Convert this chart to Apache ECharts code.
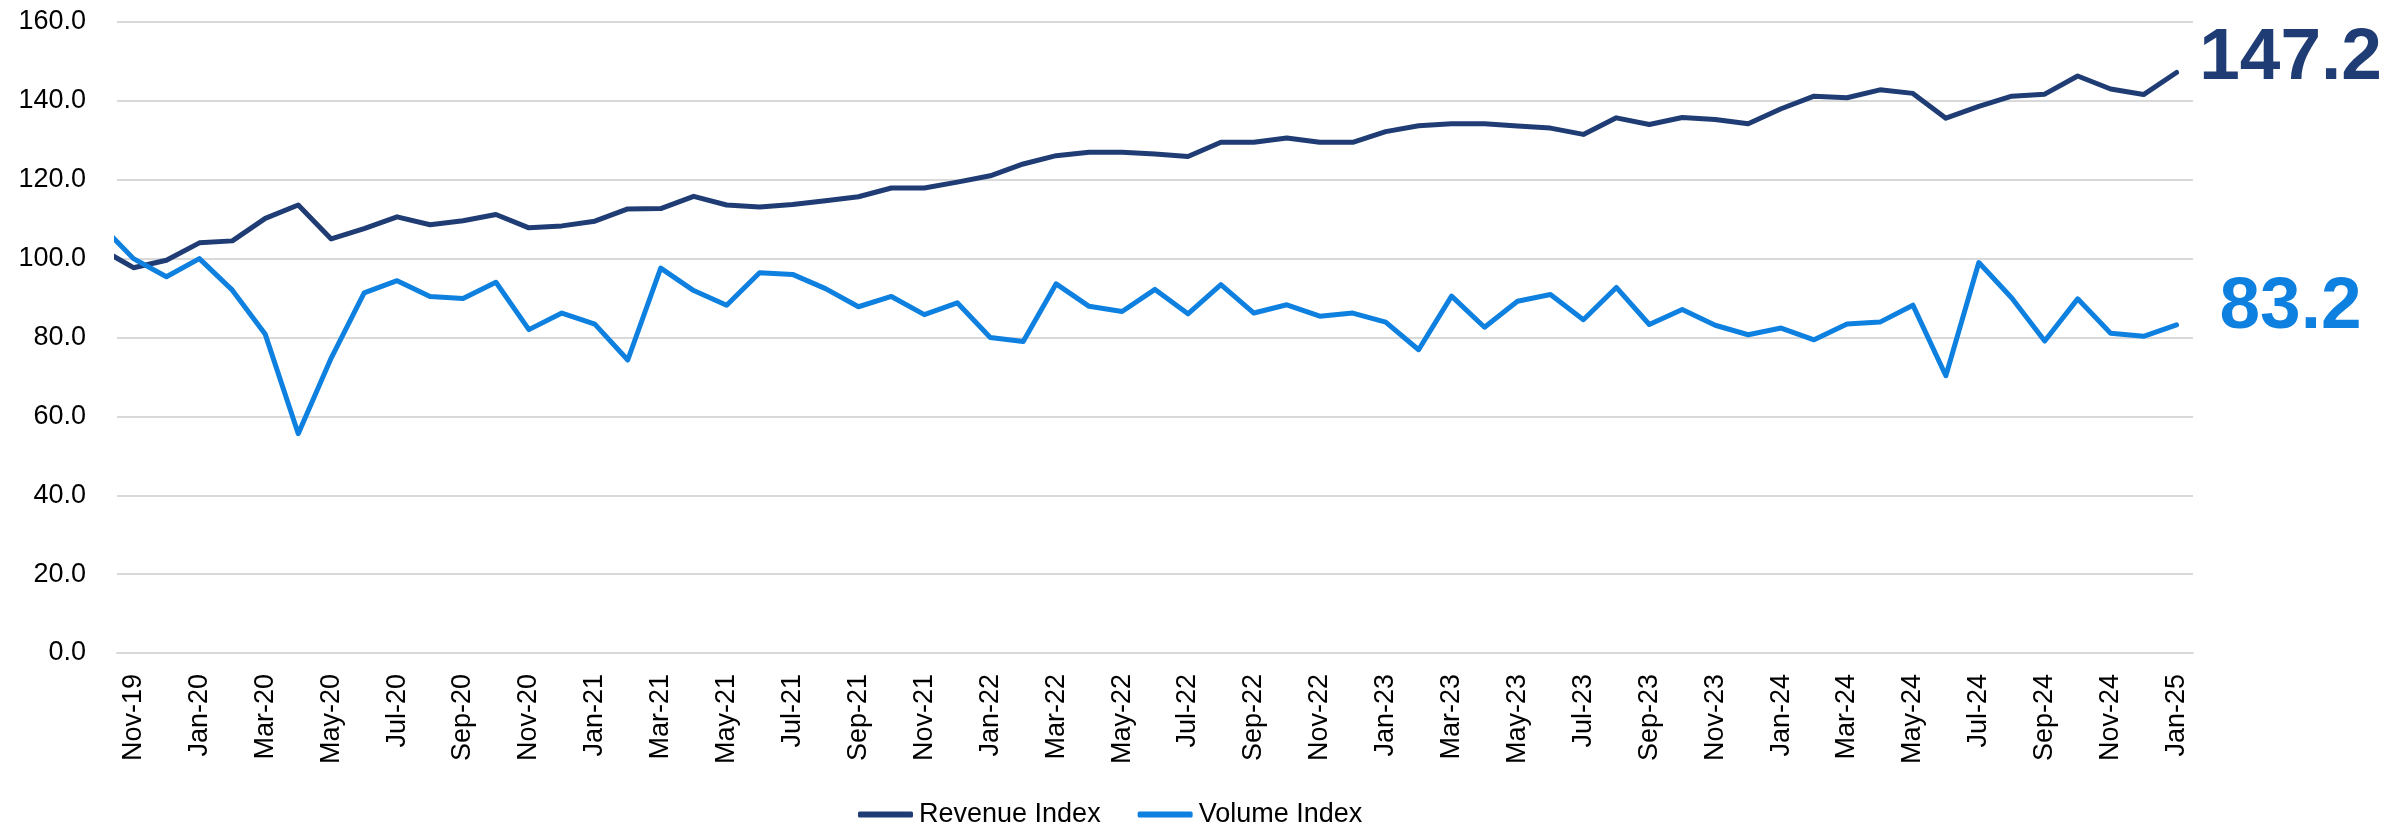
<!DOCTYPE html>
<html>
<head>
<meta charset="utf-8">
<script src="https://cdn.jsdelivr.net/npm/echarts@6/dist/echarts.min.js"></script>
<style>
    html, body { margin: 0; padding: 0; background: #fff; }
    #chart { width: 2404px; height: 826px; }
</style>
</head>
<body>
<div id="chart"></div>
<script>
// Oct-19 sits just left of the plot area, only its segment into Nov-19 shows
const months = [
    'Oct-19', 'Nov-19', 'Dec-19',
    'Jan-20', 'Feb-20', 'Mar-20', 'Apr-20', 'May-20', 'Jun-20', 'Jul-20', 'Aug-20', 'Sep-20', 'Oct-20', 'Nov-20', 'Dec-20',
    'Jan-21', 'Feb-21', 'Mar-21', 'Apr-21', 'May-21', 'Jun-21', 'Jul-21', 'Aug-21', 'Sep-21', 'Oct-21', 'Nov-21', 'Dec-21',
    'Jan-22', 'Feb-22', 'Mar-22', 'Apr-22', 'May-22', 'Jun-22', 'Jul-22', 'Aug-22', 'Sep-22', 'Oct-22', 'Nov-22', 'Dec-22',
    'Jan-23', 'Feb-23', 'Mar-23', 'Apr-23', 'May-23', 'Jun-23', 'Jul-23', 'Aug-23', 'Sep-23', 'Oct-23', 'Nov-23', 'Dec-23',
    'Jan-24', 'Feb-24', 'Mar-24', 'Apr-24', 'May-24', 'Jun-24', 'Jul-24', 'Aug-24', 'Sep-24', 'Oct-24', 'Nov-24', 'Dec-24',
    'Jan-25'
];

const revenueIndex = [
    102.5, 97.7, 99.6,
    104.0, 104.5, 110.2, 113.6, 105.0, 107.6, 110.6, 108.6, 109.6, 111.2, 107.8, 108.3,
    109.5, 112.6, 112.7, 115.8, 113.6, 113.1, 113.7, 114.7, 115.7, 117.9, 117.9, 119.4,
    121.0, 124.0, 126.1, 127.0, 127.0, 126.5, 125.9, 129.5, 129.5, 130.6, 129.5, 129.5,
    132.2, 133.7, 134.2, 134.2, 133.6, 133.1, 131.5, 135.7, 134.0, 135.8, 135.3, 134.2,
    138.0, 141.2, 140.8, 142.8, 141.9, 135.6, 138.6, 141.2, 141.7, 146.3, 143.0, 141.6,
    147.2
];

const volumeIndex = [
    108.6, 100.0, 95.4,
    100.0, 92.0, 80.8, 55.6, 74.8, 91.3, 94.4, 90.4, 89.9, 94.0, 82.0, 86.2,
    83.4, 74.3, 97.6, 91.9, 88.2, 96.4, 96.0, 92.4, 87.8, 90.4, 85.8, 88.8,
    80.0, 79.0, 93.6, 87.9, 86.6, 92.2, 86.0, 93.4, 86.2, 88.3, 85.4, 86.2,
    83.9, 76.9, 90.5, 82.6, 89.2, 90.9, 84.5, 92.7, 83.3, 87.1, 83.1, 80.7,
    82.4, 79.4, 83.4, 83.9, 88.2, 70.3, 99.0, 90.0, 79.1, 89.8, 81.1, 80.3,
    83.2
];

const navy = '#1F3D74';
const blue = '#0E80DF';
const fontFamily = '"Liberation Sans", Arial, sans-serif';

const chart = echarts.init(document.getElementById('chart'));

function lineSeries(name, data, color, dy) {
    return {
        name: name,
        type: 'line',
        data: data,
        showSymbol: false,
        symbol: 'none',
        clip: true,
        lineStyle: { color: color, width: 5, cap: 'round', join: 'round' },
        itemStyle: { color: color },
        endLabel: {
            show: true,
            formatter: (p) => p.value.toFixed(1),
            color: color,
            fontFamily: fontFamily,
            fontWeight: 'bold',
            fontSize: 73,
            align: 'center',
            verticalAlign: 'middle',
            distance: 114,
            offset: [0, dy]
        }
    };
}

chart.setOption({
    animation: false,
    textStyle: { fontFamily: fontFamily },
    grid: { left: 117, right: 211, top: 22, bottom: 173, containLabel: false },
    legend: {
        left: 858,
        top: 801,
        padding: 0,
        icon: 'roundRect',
        itemWidth: 55,
        itemHeight: 6,
        itemGap: 37,
        textStyle: { fontSize: 27, color: '#000', fontFamily: fontFamily, padding: [0, 0, 0, 1] },
        data: ['Revenue Index', 'Volume Index']
    },
    xAxis: {
        type: 'category',
        data: months,
        min: 1,
        max: months.length - 1,
        boundaryGap: true,
        axisLine: { show: true, lineStyle: { color: '#D9D9D9', width: 2 } },
        axisTick: { show: false },
        splitLine: { show: false },
        axisLabel: {
            rotate: 90,
            margin: 21,
            fontSize: 27,
            color: '#000',
            fontFamily: fontFamily,
            interval: (index) => index % 2 === 1
        }
    },
    yAxis: {
        type: 'value',
        min: 0,
        max: 160,
        interval: 20,
        axisLine: { show: false },
        axisTick: { show: false },
        splitLine: { lineStyle: { color: '#D9D9D9', width: 2 } },
        axisLabel: {
            margin: 31,
            fontSize: 27,
            color: '#000',
            fontFamily: fontFamily,
            formatter: (v) => v.toFixed(1)
        }
    },
    series: [
        lineSeries('Revenue Index', revenueIndex, navy, -14),
        lineSeries('Volume Index', volumeIndex, blue, -17)
    ]
});
</script>
</body>
</html>
